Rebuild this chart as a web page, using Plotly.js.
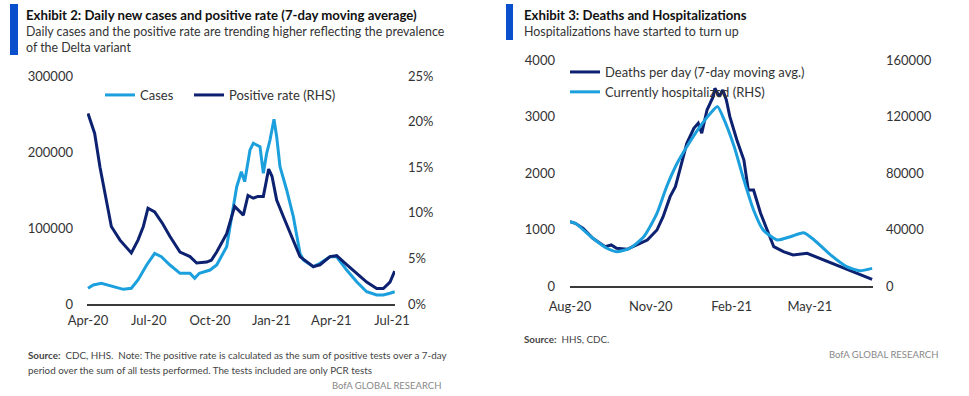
<!DOCTYPE html>
<html>
<head>
<meta charset="utf-8">
<script src="https://cdn.plot.ly/plotly-3.0.1.min.js"></script>
<style>html,body{margin:0;padding:0;background:#fff;}#chart{width:969px;height:396px;}</style>
</head>
<body>
<div id="chart"></div>
<script>
// ---- Exhibit 2 data ----
const casesDates = ['2020-04-01','2020-04-09','2020-04-21','2020-05-09','2020-05-24','2020-06-05','2020-06-15','2020-06-28','2020-07-10','2020-07-20','2020-08-02','2020-08-17','2020-09-01','2020-09-08','2020-09-15','2020-10-01','2020-10-11','2020-10-26','2020-10-31','2020-11-05','2020-11-10','2020-11-17','2020-11-22','2020-11-30','2020-12-05','2020-12-15','2020-12-20','2020-12-25','2020-12-30','2021-01-05','2021-01-09','2021-01-14','2021-01-24','2021-02-03','2021-02-13','2021-02-18','2021-03-05','2021-03-15','2021-03-30','2021-04-09','2021-04-24','2021-05-09','2021-05-24','2021-06-08','2021-06-18','2021-06-28','2021-07-05'];
const cases = [20700,25000,27200,22800,19300,20700,31600,51300,66700,62300,51300,40400,40400,33800,40400,44700,51300,75400,100000,125000,154000,174000,161000,202700,211500,207000,172000,198300,215800,243000,220200,180700,150000,114900,66700,57900,49100,53600,62200,62200,44700,29300,16200,11800,11800,14100,16200];
const rateDates = ['2020-04-01','2020-04-06','2020-04-11','2020-04-19','2020-04-29','2020-05-06','2020-05-19','2020-06-05','2020-06-15','2020-06-23','2020-06-30','2020-07-10','2020-07-22','2020-08-02','2020-08-17','2020-09-01','2020-09-11','2020-09-26','2020-10-03','2020-10-11','2020-10-26','2020-11-07','2020-11-20','2020-11-27','2020-12-05','2020-12-12','2020-12-20','2020-12-28','2021-01-02','2021-01-09','2021-01-19','2021-02-01','2021-02-13','2021-03-05','2021-03-15','2021-03-30','2021-04-09','2021-04-21','2021-05-09','2021-05-24','2021-06-08','2021-06-18','2021-06-28','2021-07-05'];
const rate = [20.9,19.8,18.7,15.0,11.4,8.5,7.0,5.6,7.0,8.5,10.5,10.1,8.8,7.4,5.7,5.2,4.5,4.6,4.8,5.7,7.7,10.7,9.75,11.9,11.6,11.8,11.8,14.8,14.0,11.4,9.6,7.4,5.2,4.1,4.3,5.2,5.3,4.5,3.4,2.4,1.7,1.7,2.4,3.6];
const leftYTicks = [0,100000,200000,300000];
const rateTicks = [0,5,10,15,20,25];
const rateTickText = ['0%','5%','10%','15%','20%','25%'];

// ---- Exhibit 3 data ----
const deathDates = ['2020-08-01','2020-08-07','2020-08-16','2020-08-27','2020-09-10','2020-09-17','2020-09-23','2020-10-05','2020-10-16','2020-10-28','2020-11-08','2020-11-15','2020-11-23','2020-11-29','2020-12-04','2020-12-12','2020-12-20','2020-12-25','2020-12-29','2021-01-04','2021-01-11','2021-01-13','2021-01-18','2021-01-22','2021-01-26','2021-01-30','2021-02-07','2021-02-15','2021-02-20','2021-02-26','2021-03-06','2021-03-17','2021-03-21','2021-04-01','2021-04-12','2021-04-28','2021-05-17','2021-06-08','2021-06-23','2021-07-11'];
const deaths = [1138,1110,1021,844,696,726,667,650,726,814,991,1227,1581,1758,2053,2526,2791,2880,2703,3115,3351,3500,3351,3469,3292,2997,2584,2230,1699,1699,1287,873,696,607,549,579,460,313,225,119];
const hospDates = ['2020-08-01','2020-08-07','2020-08-27','2020-09-12','2020-09-23','2020-10-08','2020-10-24','2020-11-08','2020-11-19','2020-12-01','2020-12-12','2020-12-27','2021-01-08','2021-01-16','2021-01-22','2021-02-04','2021-02-15','2021-02-26','2021-03-09','2021-03-25','2021-04-09','2021-04-24','2021-05-06','2021-05-25','2021-06-12','2021-06-27','2021-07-11'];
const hosp = [45500,44400,33800,26700,24300,26700,34900,51500,70300,86900,98600,112800,122300,127000,119900,98600,75000,53800,39600,32600,34900,37700,32600,21900,13700,10800,12500];
const deathTicks = [0,1000,2000,3000,4000];
const hospTicks = [0,40000,80000,120000,160000];

const W = 969, H = 396;
const px = x => x / W;
const py = y => 1 - y / H;
const LIGHT = '#1ca0dd', DARK = '#0c2170', TXT = '#333333';
const FONT = 'Lato, "Open Sans", sans-serif';
const tickFont = {family: FONT, size: 13, color: TXT};

const traces = [
  {x: casesDates, y: cases, xaxis: 'x', yaxis: 'y', name: 'Cases', mode: 'lines',
   line: {color: LIGHT, width: 3}, legend: 'legend'},
  {x: rateDates, y: rate, xaxis: 'x', yaxis: 'y2', name: 'Positive rate (RHS)', mode: 'lines',
   line: {color: DARK, width: 3}, legend: 'legend3'},
  {x: deathDates, y: deaths, xaxis: 'x2', yaxis: 'y3', name: 'Deaths per day (7-day moving avg.)', mode: 'lines',
   line: {color: DARK, width: 3}, legend: 'legend2'},
  {x: hospDates, y: hosp, xaxis: 'x2', yaxis: 'y4', name: 'Currently hospitalized (RHS)', mode: 'lines',
   line: {color: LIGHT, width: 3, shape: 'spline', smoothing: 0.6}, legend: 'legend2'}
];

const baseX = {type: 'date', dtick: 'M3', tickformat: '%b-%y', showgrid: false, zeroline: false,
  showline: true, linecolor: '#3a3a3a', linewidth: 1.5, ticks: '', tickfont: tickFont,
  ticklabelstandoff: 4, fixedrange: true};
const baseY = {showgrid: false, zeroline: false, showline: false, ticks: '', tickfont: tickFont, fixedrange: true};

function note(x, y, text, opts) {
  return Object.assign({xref: 'paper', yref: 'paper', x: px(x), y: py(y), text: text, showarrow: false,
    xanchor: 'left', yanchor: 'middle', font: {family: FONT, size: 13, color: TXT}}, opts || {});
}
function legendAt(x, y, orient) {
  return {x: px(x), y: py(y), xanchor: 'left', yanchor: 'top', orientation: orient,
    bgcolor: 'rgba(0,0,0,0)', font: tickFont, itemwidth: 30, tracegroupgap: 0};
}

const layout = {
  width: W, height: H, margin: {l: 0, r: 0, t: 0, b: 0},
  paper_bgcolor: '#ffffff', plot_bgcolor: 'rgba(0,0,0,0)',
  showlegend: true,
  xaxis: Object.assign({}, baseX, {domain: [px(87), px(395)], anchor: 'y',
    range: ['2020-03-30 12:00', '2021-07-05 12:00'], tick0: '2020-04-01'}),
  yaxis: Object.assign({}, baseY, {domain: [py(304), py(76)], anchor: 'x', range: [0, 300000],
    tickvals: leftYTicks, tickformat: 'd', ticklabelstandoff: 13}),
  yaxis2: Object.assign({}, baseY, {overlaying: 'y', side: 'right', anchor: 'x', range: [0, 25],
    tickvals: rateTicks, ticktext: rateTickText, ticklabelstandoff: 12}),
  xaxis2: Object.assign({}, baseX, {domain: [px(570), px(873)], anchor: 'y3',
    range: ['2020-08-01', '2021-07-12'], tick0: '2020-08-01', ticklabelstandoff: 8}),
  yaxis3: Object.assign({}, baseY, {domain: [py(286), py(60)], anchor: 'x2', range: [0, 4000],
    tickvals: deathTicks, tickformat: 'd', ticklabelstandoff: 14}),
  yaxis4: Object.assign({}, baseY, {overlaying: 'y3', side: 'right', anchor: 'x2', range: [0, 160000],
    tickvals: hospTicks, tickformat: 'd', ticklabelstandoff: 12}),
  legend: legendAt(100, 80, 'h'),
  legend3: legendAt(189, 80, 'h'),
  legend2: legendAt(565, 57, 'v'),
  shapes: [
    {type: 'rect', xref: 'paper', yref: 'paper', x0: px(10), x1: px(18), y0: py(55), y1: py(4),
     fillcolor: '#0a50cc', line: {width: 0}},
    {type: 'rect', xref: 'paper', yref: 'paper', x0: px(506), x1: px(513), y0: py(40), y1: py(4),
     fillcolor: '#0a50cc', line: {width: 0}}
  ],
  annotations: [
    note(24, 15, '<b>Exhibit 2: Daily new cases and positive rate (7-day moving average)</b>', {font: {family: FONT, size: 13.2, color: '#111'}}),
    note(24, 32, 'Daily cases and the positive rate are trending higher reflecting the prevalence', {font: {family: FONT, size: 12.4, color: TXT}}),
    note(24, 47, 'of the Delta variant', {font: {family: FONT, size: 12.4, color: TXT}}),
    note(26, 355, '<b>Source:</b>  CDC, HHS.  Note: The positive rate is calculated as the sum of positive tests over a 7-day', {font: {family: FONT, size: 9.8, color: '#444'}}),
    note(26, 370, 'period over the sum of all tests performed. The tests included are only PCR tests', {font: {family: FONT, size: 9.8, color: '#444'}}),
    note(443, 385, 'BofA GLOBAL RESEARCH', {xanchor: 'right', font: {family: FONT, size: 9.5, color: '#888'}}),
    note(522, 15, '<b>Exhibit 3: Deaths and Hospitalizations</b>', {font: {family: FONT, size: 13.2, color: '#111'}}),
    note(522, 32, 'Hospitalizations have started to turn up', {font: {family: FONT, size: 12.4, color: TXT}}),
    note(522, 339, '<b>Source:</b>  HHS, CDC.', {font: {family: FONT, size: 9.8, color: '#444'}}),
    note(940, 354, 'BofA GLOBAL RESEARCH', {xanchor: 'right', font: {family: FONT, size: 9.5, color: '#888'}})
  ]
};

Plotly.newPlot('chart', traces, layout, {displayModeBar: false, staticPlot: true});
</script>
</body>
</html>
